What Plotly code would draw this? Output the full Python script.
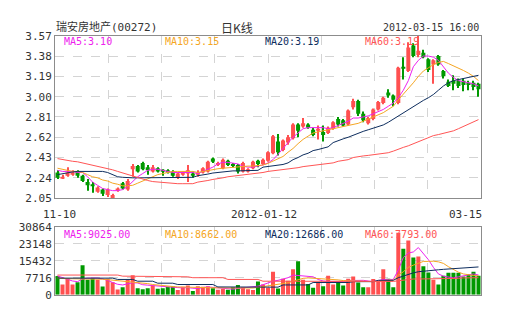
import plotly.graph_objects as go

# ---------------- data ----------------
opens = [2.29,2.24,2.26,2.27,2.30,2.26,2.20,2.18,2.11,2.13,2.08,2.05,2.12,2.19,2.13,2.32,2.35,2.38,2.34,2.30,
         2.33,2.31,2.31,2.30,2.24,2.27,2.28,2.28,2.27,2.29,2.30,2.42,2.36,2.33,2.40,2.37,2.36,2.30,2.30,2.33,
         2.40,2.37,2.40,2.47,2.58,2.50,2.57,2.61,2.74,2.72,2.74,2.69,2.68,2.67,2.66,2.70,2.79,2.78,2.74,2.90,
         2.96,2.84,2.75,2.79,2.88,2.94,3.04,3.01,2.94,3.28,3.24,3.48,3.39,3.41,3.35,3.30,3.38,3.24,3.14,3.15,
         3.15,3.15,3.13,3.13,3.12]
highs = [2.31,2.27,2.34,2.31,2.31,2.27,2.23,2.20,2.16,2.14,2.14,2.09,2.15,2.20,2.23,2.37,2.36,2.39,2.36,2.36,
         2.34,2.32,2.32,2.31,2.29,2.30,2.36,2.30,2.31,2.34,2.40,2.43,2.39,2.42,2.41,2.38,2.37,2.39,2.33,2.40,
         2.41,2.42,2.49,2.64,2.65,2.60,2.64,2.75,2.75,2.80,2.75,2.71,2.73,2.73,2.72,2.77,2.81,2.79,2.88,2.98,
         2.97,2.86,2.81,2.89,2.96,3.00,3.07,3.02,3.28,3.37,3.51,3.50,3.57,3.44,3.36,3.35,3.39,3.25,3.16,3.20,
         3.17,3.17,3.15,3.15,3.13]
lows = [2.23,2.23,2.25,2.26,2.24,2.20,2.12,2.10,2.10,2.07,2.06,2.05,2.11,2.13,2.12,2.25,2.29,2.31,2.27,2.29,
        2.29,2.26,2.28,2.25,2.23,2.26,2.20,2.24,2.25,2.28,2.29,2.38,2.35,2.32,2.35,2.34,2.28,2.29,2.29,2.32,
        2.34,2.36,2.39,2.46,2.45,2.49,2.55,2.60,2.62,2.71,2.70,2.63,2.60,2.58,2.65,2.69,2.72,2.72,2.73,2.88,
        2.82,2.76,2.74,2.78,2.87,2.93,2.99,2.91,2.93,3.16,3.23,3.37,3.37,3.36,3.23,3.12,3.29,3.17,3.09,3.06,
        3.08,3.05,3.06,3.06,3.00]
closes = [2.24,2.25,2.29,2.29,2.26,2.21,2.17,2.16,2.15,2.09,2.13,2.08,2.14,2.14,2.21,2.35,2.30,2.32,2.31,2.34,
          2.30,2.30,2.29,2.26,2.28,2.29,2.31,2.26,2.29,2.33,2.39,2.39,2.38,2.41,2.36,2.35,2.30,2.38,2.32,2.39,
          2.37,2.41,2.48,2.63,2.48,2.59,2.62,2.74,2.68,2.75,2.71,2.64,2.70,2.64,2.71,2.76,2.74,2.73,2.87,2.96,
          2.84,2.78,2.80,2.88,2.95,2.99,3.01,2.97,3.27,3.27,3.46,3.38,3.43,3.37,3.25,3.34,3.30,3.19,3.10,3.12,
          3.10,3.11,3.11,3.09,3.07]

ma5 = [2.31,2.30,2.30,2.30,2.29,2.29,2.25,2.20,2.17,2.14,2.13,2.12,2.12,2.13,2.16,2.21,2.25,2.28,2.31,2.32,
       2.32,2.31,2.30,2.29,2.29,2.29,2.29,2.29,2.28,2.30,2.32,2.34,2.37,2.385,2.385,2.38,2.37,2.35,2.34,2.34,
       2.35,2.36,2.38,2.41,2.46,2.52,2.57,2.62,2.66,2.70,2.71,2.71,2.71,2.71,2.70,2.71,2.73,2.75,2.77,2.80,
       2.80,2.81,2.82,2.84,2.86,2.88,2.91,2.94,2.99,3.06,3.15,3.28,3.34,3.38,3.38,3.37,3.34,3.28,3.22,3.18,
       3.15,3.14,3.13,3.12,3.10]
ma10 = [2.33,2.32,2.31,2.30,2.30,2.29,2.27,2.25,2.24,2.22,2.21,2.19,2.18,2.165,2.165,2.17,2.19,2.21,2.23,2.25,
        2.27,2.28,2.29,2.30,2.30,2.30,2.30,2.30,2.29,2.30,2.31,2.32,2.325,2.33,2.335,2.34,2.34,2.345,2.35,2.35,
        2.355,2.36,2.375,2.395,2.42,2.44,2.48,2.515,2.56,2.60,2.63,2.66,2.67,2.68,2.69,2.695,2.705,2.715,2.73,2.74,
        2.75,2.77,2.79,2.81,2.83,2.85,2.88,2.91,2.97,3.02,3.07,3.13,3.19,3.24,3.27,3.30,3.32,3.33,3.31,3.29,
        3.27,3.245,3.22,3.19,3.15]
ma20 = [2.27,2.28,2.29,2.295,2.30,2.30,2.30,2.30,2.30,2.30,2.29,2.27,2.25,2.245,2.24,2.24,2.24,2.24,2.24,2.24,
        2.24,2.245,2.245,2.245,2.245,2.245,2.245,2.245,2.26,2.265,2.275,2.285,2.29,2.30,2.305,2.305,2.305,2.305,2.305,2.305,
        2.31,2.34,2.345,2.35,2.36,2.365,2.38,2.41,2.43,2.455,2.47,2.495,2.505,2.515,2.53,2.57,2.59,2.605,2.62,2.64,
        2.66,2.675,2.69,2.705,2.72,2.735,2.76,2.79,2.82,2.85,2.88,2.91,2.94,2.965,2.99,3.02,3.06,3.10,3.13,3.15,
        3.16,3.17,3.18,3.19,3.20]
ma60 = [2.42,2.41,2.40,2.395,2.39,2.38,2.37,2.36,2.35,2.34,2.33,2.315,2.30,2.285,2.27,2.26,2.245,2.23,2.215,2.205,
        2.20,2.195,2.19,2.185,2.185,2.185,2.185,2.185,2.20,2.205,2.215,2.225,2.23,2.24,2.25,2.255,2.26,2.265,2.27,2.275,
        2.285,2.29,2.30,2.305,2.315,2.32,2.325,2.33,2.335,2.345,2.35,2.355,2.36,2.365,2.37,2.38,2.395,2.40,2.41,2.43,
        2.44,2.445,2.45,2.455,2.46,2.465,2.475,2.49,2.51,2.525,2.54,2.56,2.58,2.595,2.615,2.635,2.645,2.655,2.665,2.68,
        2.70,2.72,2.74,2.76,2.785]

volumes = [8600,4670,7600,4670,5680,13400,6850,7600,6850,3800,7300,5680,2490,3500,6850,8900,3000,2500,3000,4250,
           2800,3000,3650,3950,2200,3650,4250,1750,3950,3650,3950,3000,2300,2800,2300,3400,4500,3500,2500,2200,
           6100,4660,3200,10500,2900,7300,6400,11650,15300,6850,4970,3200,5850,3930,8730,4660,5670,4230,7300,8300,
           5670,3500,3500,7150,5850,11650,7300,3500,28240,20950,24750,17000,17460,12960,10200,6850,4660,8730,10040,10040,
           10040,8300,9470,10500,8700]
vma5 = [8600,7800,7000,6300,6000,7200,7600,7700,7600,7200,6600,5600,4800,4500,5000,5500,5400,4600,4400,4200,
        3800,3700,3600,3500,3300,3200,3300,3000,2900,3300,3600,3400,3200,2900,2800,2600,2900,3200,3300,3700,
        3950,4600,5400,6200,6600,7300,7800,9000,8800,8300,8300,8200,7000,6300,6100,6100,6000,6100,6500,6600,
        6600,6600,6300,6000,6500,7000,7000,7000,11300,17000,19000,19500,21500,19000,16000,12500,9500,8500,8000,7700,
        8200,8700,9200,9500,9025]
vma10 = [7600,7300,7300,7300,7300,7300,7300,7300,7300,7100,6900,6700,6500,6300,6100,5900,5700,5400,5100,4700,
         4400,4200,4000,3800,3600,3500,3400,3300,3200,3200,3200,3200,3200,3200,3200,3000,3000,3000,3000,3100,
         3400,3700,4100,4600,4900,5200,5500,6200,7000,7500,7700,7600,7400,7100,7200,7100,6800,6500,6400,6500,
         6300,6100,6000,6000,6200,6500,6700,6600,8900,10500,12500,13500,14500,15200,15200,15300,15000,14300,12800,11500,
         10300,9500,9000,8800,8662]
vma20 = [7600,7600,7600,7600,7600,7600,7600,7600,7600,7600,7600,7600,7000,7000,7000,7000,6200,6200,6200,6200,
         5300,5300,5300,5300,4700,4700,4700,4700,4700,4700,4700,4700,3600,3600,3600,3600,3600,3600,3600,3600,
         3600,3500,3500,3500,3500,4500,4500,4500,4500,4500,4500,5600,5600,5600,5600,5600,5600,5600,5600,6000,
         6000,6000,6000,6000,6600,6600,6600,6600,7800,8600,9500,10000,10500,10800,11000,11200,11400,11600,11800,12000,
         12100,12200,12400,12500,12686]
vma60 = [9000,9000,9000,9000,9000,9000,9000,9000,9000,9000,9000,9000,9000,8500,8500,8500,8500,8500,8500,8500,
         8500,8200,8200,8200,8200,8200,8200,7800,7800,7800,7800,7800,7800,7800,7000,7000,7000,7000,7000,7000,
         7000,6200,6200,6200,6200,6200,6200,6200,6200,6200,6200,6000,6000,6000,6000,6000,6000,6000,6000,6000,
         6000,6100,6100,6100,6100,6100,6100,6100,6400,6700,7000,7200,7200,7200,7200,7200,7500,7500,7500,7500,
         7500,7700,7700,7700,7793]

price_ticks = [2.05, 2.24, 2.43, 2.62, 2.81, 3.00, 3.19, 3.38, 3.57]
vol_ticks = [0, 7716, 15432, 23148, 30864]
date_labels = ["11-10", "2012-01-12", "03-15"]
title_left = "瑞安房地产(00272)"
title_mid = "日K线"
title_right = "2012-03-15 16:00"
price_legend = [("MA5:3.10", "#ee22ee"), ("MA10:3.15", "#f5a623"), ("MA20:3.19", "#0d2d5e"), ("MA60:3.19", "#ff5555")]
vol_legend = [("MA5:9025.00", "#ee22ee"), ("MA10:8662.00", "#f5a623"), ("MA20:12686.00", "#0d2d5e"), ("MA60:7793.00", "#ff5555")]

# ---------------- figure ----------------
W, H = 505, 330
RED, GREEN = "#ff5050", "#009900"
n = len(closes)
xs = list(range(n))
ccolors = [RED if c >= o else GREEN for o, c in zip(opens, closes)]

fig = go.Figure()
# wicks
fig.add_trace(go.Bar(x=xs, base=lows, y=[h - l for h, l in zip(highs, lows)], width=0.2,
                     marker=dict(color=ccolors, line=dict(width=0)),
                     xaxis="x", yaxis="y", showlegend=False, hoverinfo="skip"))
# bodies
fig.add_trace(go.Bar(x=xs, base=[min(o, c) for o, c in zip(opens, closes)],
                     y=[max(abs(c - o), 0.009) for o, c in zip(opens, closes)], width=0.8,
                     marker=dict(color=ccolors, line=dict(width=0)),
                     xaxis="x", yaxis="y", showlegend=False, hoverinfo="skip"))

for series, (_, col) in zip([ma5, ma10, ma20, ma60], price_legend):
    fig.add_trace(go.Scatter(x=xs, y=series, mode="lines", line=dict(color=col, width=1),
                             xaxis="x", yaxis="y", showlegend=False, hoverinfo="skip"))

fig.add_trace(go.Bar(x=xs, y=volumes, marker=dict(color=ccolors, line=dict(width=0)), width=0.8,
                     xaxis="x2", yaxis="y2", showlegend=False, hoverinfo="skip"))
for series, (_, col) in zip([vma5, vma10, vma20, vma60], vol_legend):
    fig.add_trace(go.Scatter(x=xs, y=series, mode="lines", line=dict(color=col, width=1),
                             xaxis="x2", yaxis="y2", showlegend=False, hoverinfo="skip"))

grid_x = [-0.5 + k * n / 8 for k in range(1, 8)]
x_dom = [55 / W, 481 / W]
axis_font = dict(family="DejaVu Sans Mono", size=11, color="#333333")
common_x = dict(range=[-0.5, n - 0.5], tickvals=grid_x, showticklabels=False, ticks="",
                showgrid=True, gridcolor="#d4d4d4", griddash="dash", gridwidth=1,
                showline=True, mirror=True, linecolor="#8c8c8c", linewidth=1, zeroline=False,
                fixedrange=True)
common_y = dict(showgrid=True, gridcolor="#d4d4d4", griddash="dash", gridwidth=1, ticks="",
                showline=True, mirror=True, linecolor="#8c8c8c", linewidth=1, zeroline=False,
                tickfont=axis_font, fixedrange=True)

fig.update_layout(
    width=W, height=H, margin=dict(l=0, r=0, t=0, b=0),
    paper_bgcolor="white", plot_bgcolor="white",
    barmode="overlay",
    xaxis=dict(domain=x_dom, anchor="y", **common_x),
    yaxis=dict(domain=[1 - 200 / H, 1 - 31 / H], anchor="x", range=[price_ticks[0], price_ticks[-1]],
               tickvals=price_ticks, ticktext=["%.2f" % v for v in price_ticks], **common_y),
    xaxis2=dict(domain=x_dom, anchor="y2", **common_x),
    yaxis2=dict(domain=[1 - 300.7 / H, 1 - 230 / H], anchor="x2", range=[vol_ticks[0], vol_ticks[-1]],
                tickvals=vol_ticks, ticktext=[str(v) for v in vol_ticks], **common_y),
)

def ann(text, px, py, color="#333333", size=11, family="DejaVu Sans Mono", xanchor="left"):
    fig.add_annotation(text=text, x=px / W, y=1 - py / H, xref="paper", yref="paper",
                       xanchor=xanchor, yanchor="middle", showarrow=False,
                       font=dict(family=family, size=size, color=color))

ann(title_left, 54, 22, size=11, family="DejaVu Sans Mono, Noto Sans CJK SC")
ann(title_mid, 237, 22, size=12, family="Noto Sans CJK SC", xanchor="center")
ann(title_right, 481, 22, xanchor="right", size=10)

for (txt, col), px in zip(price_legend, [62, 163, 263, 363]):
    ann(txt, px, 37, color=col, size=10)
for (txt, col), px in zip(vol_legend, [62, 163, 263, 363]):
    ann(txt, px, 238, color=col, size=10)

ann(date_labels[0], 59, 217, xanchor="center")
ann(date_labels[1], 264, 217, xanchor="center")
ann(date_labels[2], 484, 217, xanchor="right")

fig.write_html("out.html")
